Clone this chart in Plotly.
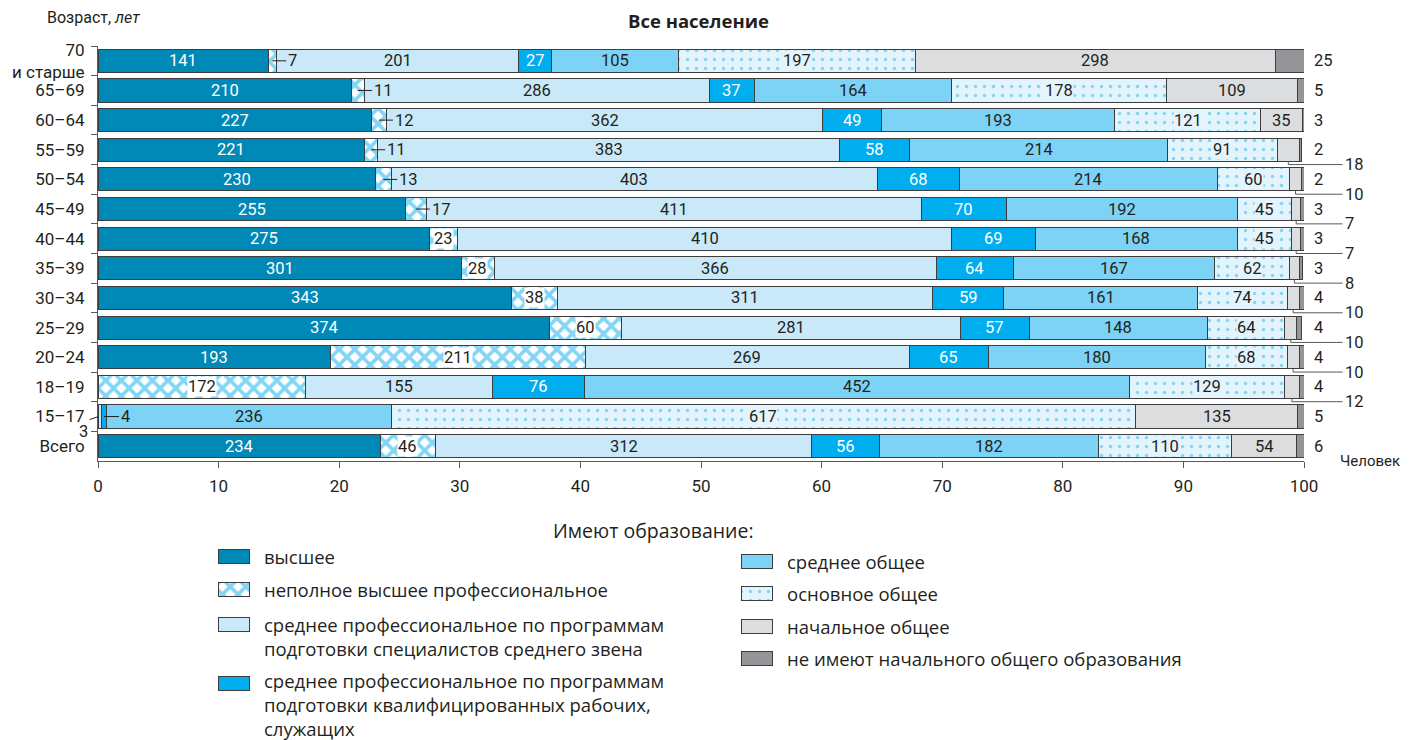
import numpy as np
import plotly.graph_objects as go

# ---------------- data (per 1000 persons) ----------------
ages = ["70<br>и старше", "65–69", "60–64", "55–59", "50–54", "45–49", "40–44",
        "35–39", "30–34", "25–29", "20–24", "18–19", "15–17", "Всего"]

higher            = [141, 210, 227, 221, 230, 255, 275, 301, 343, 374, 193,   0,   0, 234]
incomplete_higher = [  7,  11,  12,  11,  13,  17,  23,  28,  38,  60, 211, 172,   0,  46]
spo_specialists   = [201, 286, 362, 383, 403, 411, 410, 366, 311, 281, 269, 155,   3, 312]
spo_workers       = [ 27,  37,  49,  58,  68,  70,  69,  64,  59,  57,  65,  76,   4,  56]
secondary_general = [105, 164, 193, 214, 214, 192, 168, 167, 161, 148, 180, 452, 236, 182]
basic_general     = [197, 178, 121,  91,  60,  45,  45,  62,  74,  64,  68, 129, 617, 110]
primary_general   = [298, 109,  35,  18,  10,   7,   7,   8,  10,  10,  10,  12, 135,  54]
no_primary        = [ 25,   5,   3,   2,   2,   3,   3,   3,   4,   4,   4,   4,   5,   6]

series_names = [
    "высшее",
    "неполное высшее профессиональное",
    "среднее профессиональное по программам<br>подготовки специалистов среднего звена",
    "среднее профессиональное по программам<br>подготовки квалифицированных рабочих,<br>служащих",
    "среднее общее",
    "основное общее",
    "начальное общее",
    "не имеют начального общего образования",
]
series_values = [higher, incomplete_higher, spo_specialists, spo_workers,
                 secondary_general, basic_general, primary_general, no_primary]

x_ticks = [0, 10, 20, 30, 40, 50, 60, 70, 80, 90, 100]

# ---------------- styles ----------------
colors = ["#0089b6", "#ffffff", "#c9e9f8", "#00aeef", "#7dd3f5", "#e4f4fc", "#dcdddf", "#939598"]
patterns = [None,
            dict(shape="x", fgcolor="#08acee", bgcolor="#ffffff", size=11, solidity=0.55),
            None, None, None,
            dict(shape=".", fgcolor="#2fb3ea", bgcolor="#e4f4fc", size=9, solidity=0.12),
            None, None]
text_colors = ["#ffffff", "#231f20", "#231f20", "#ffffff", "#231f20", "#231f20", "#231f20", "#231f20"]
label_bg = [None, "#ffffff", None, None, None, "#e4f4fc", None, None]
OUTLINE = "#3d3d3f"
DARK = "#231f20"
AXIS = "#58595b"
NUM_FONT = "Roboto, Liberation Sans, sans-serif"
TXT_FONT = "Open Sans, Noto Sans, sans-serif"

# the page body has an 8 px margin: size the figure so it fits the 1410x740 window
OFF = 8
W, H = 1410 - OFF, 740 - OFF
L, T, B = 98 - OFF, 46 - OFF, 0
PW = 1206
R = W - L - PW
PH = H - T - B


def pxx(x):  # page pixel x -> paper x
    return (x - OFF - L) / PW


def pxy(y):  # page pixel y -> paper y
    return (H - B - (y - OFF)) / PH


main_bottom_px = 461
fig = go.Figure()

for k, vals in enumerate(series_values):
    marker = dict(color=colors[k], line=dict(color=OUTLINE, width=1))
    if patterns[k]:
        marker["pattern"] = patterns[k]
    fig.add_trace(go.Bar(
        orientation="h", y=ages,
        x=[v / 10 if v else None for v in vals],
        marker=marker, name=series_names[k], showlegend=False,
        hoverinfo="skip", textposition="none",
    ))

# ---------------- labels ----------------
V = np.array(series_values, dtype=float) / 10.0
ends = np.cumsum(V, axis=0)
starts = ends - V
mids = starts + V / 2

LBL = 16.5
annotations = []
shapes = []
for k, vals in enumerate(series_values):
    for i, v in enumerate(vals):
        if v == 0:
            continue
        txt = str(v)
        m = float(mids[k, i])
        if k == 7:
            annotations.append(dict(x=100, y=i, xref="x", yref="y", text=txt, showarrow=False,
                                    xanchor="left", yanchor="middle", xshift=8,
                                    font=dict(family=NUM_FONT, size=LBL, color=DARK)))
        elif k == 1 and v < 20:
            annotations.append(dict(x=m, y=i, xref="x", yref="y", text=txt, showarrow=True,
                                    arrowhead=0, arrowwidth=1, arrowcolor=DARK, standoff=0,
                                    ax=14, ay=0, xanchor="left", yanchor="middle",
                                    font=dict(family=NUM_FONT, size=LBL, color=DARK)))
        elif k == 6 and v < 20:
            shapes.append(dict(type="line", xref="x", yref="y", x0=m, x1=m, y0=i + 0.39, y1=i + 0.5,
                               line=dict(color=AXIS, width=1)))
            annotations.append(dict(x=m, y=i + 0.5, xref="x", yref="y", text=txt, showarrow=True,
                                    arrowhead=0, arrowwidth=1, arrowcolor=AXIS, standoff=0,
                                    axref="x", ayref="y", ax=103.2, ay=i + 0.5,
                                    xanchor="left", yanchor="middle",
                                    font=dict(family=NUM_FONT, size=LBL, color=DARK)))
        elif k == 2 and v < 5:
            annotations.append(dict(x=float(starts[k, i]) + 0.05, y=i, xref="x", yref="y",
                                    text=txt, showarrow=True, arrowhead=0, arrowwidth=1,
                                    arrowcolor=DARK, standoff=0, ax=-9, ay=3,
                                    xanchor="right", yanchor="top",
                                    font=dict(family=NUM_FONT, size=LBL, color=DARK)))
        elif k == 3 and v < 5:
            annotations.append(dict(x=m, y=i, xref="x", yref="y", text=txt, showarrow=True,
                                    arrowhead=0, arrowwidth=1, arrowcolor=DARK, standoff=0,
                                    ax=15, ay=0, xanchor="left", yanchor="middle",
                                    font=dict(family=NUM_FONT, size=LBL, color=DARK)))
        else:
            a = dict(x=m, y=i, xref="x", yref="y", text=txt, showarrow=False,
                     xanchor="center", yanchor="middle",
                     font=dict(family=NUM_FONT, size=LBL, color=text_colors[k]))
            if label_bg[k]:
                a["bgcolor"] = label_bg[k]
                a["borderpad"] = 0
            annotations.append(a)

# ---------------- titles ----------------
annotations += [
    dict(x=pxx(698), y=pxy(20), xref="paper", yref="paper", text="<b>Все население</b>",
         showarrow=False, xanchor="center", yanchor="middle",
         font=dict(family=TXT_FONT, size=18.5, color=DARK)),
    dict(x=pxx(45), y=pxy(18), xref="paper", yref="paper", text="Возраст, <i>лет</i>",
         showarrow=False, xanchor="left", yanchor="middle",
         font=dict(family=NUM_FONT, size=16, color=DARK)),
    dict(x=pxx(1338), y=pxy(461), xref="paper", yref="paper", text="Человек",
         showarrow=False, xanchor="left", yanchor="middle",
         font=dict(family=NUM_FONT, size=15, color=DARK)),
    dict(x=pxx(653), y=pxy(530), xref="paper", yref="paper", text="Имеют образование:",
         showarrow=False, xanchor="center", yanchor="middle",
         font=dict(family=TXT_FONT, size=19.5, color=DARK)),
]

# ---------------- legend (manual, two columns) ----------------
legend_swatch = [  # swatch left x, swatch centre y (page px)
    (218, 556), (218, 589), (218, 624), (218, 683),
    (741, 561), (741, 593), (741, 626), (741, 658),
]
legend_text_y = [556, 589, 636, 704, 561, 593, 626, 658]
for k, (sx, sy) in enumerate(legend_swatch):
    marker = dict(color=colors[k], line=dict(color=OUTLINE, width=1))
    if patterns[k]:
        marker["pattern"] = patterns[k]
    fig.add_trace(go.Bar(orientation="h", x=[31], base=[sx], y=[sy], width=[14],
                         xaxis="x2", yaxis="y2", marker=marker, showlegend=False,
                         hoverinfo="skip"))
    annotations.append(dict(x=pxx(sx + 44), y=pxy(legend_text_y[k]), xref="paper", yref="paper",
                            text=series_names[k], showarrow=False, xanchor="left",
                            yanchor="middle", align="left",
                            font=dict(family=TXT_FONT, size=18.5, color=DARK)))

fig.update_layout(
    width=W, height=H, margin=dict(l=L, r=R, t=T, b=B, autoexpand=False),
    barmode="stack", bargap=0.22,
    paper_bgcolor="white", plot_bgcolor="white",
    hovermode=False, showlegend=False,
    annotations=annotations, shapes=shapes,
    xaxis=dict(range=[0, 100], tickvals=x_ticks, ticks="outside", ticklen=6, tickcolor=AXIS,
               showline=True, linecolor=AXIS, linewidth=1, showgrid=False, zeroline=False,
               tickfont=dict(family=NUM_FONT, size=17, color=DARK), anchor="y",
               ticklabelstandoff=4, fixedrange=True, automargin=False),
    yaxis=dict(type="category", categoryorder="array", categoryarray=ages,
               range=[len(ages) - 0.5, -0.5], domain=[pxy(main_bottom_px), 1],
               tickson="boundaries", ticks="outside", ticklen=6, tickcolor=AXIS,
               showline=True, linecolor=AXIS, linewidth=1, showgrid=False, zeroline=False,
               tickfont=dict(family=NUM_FONT, size=17, color=DARK), anchor="x",
               ticklabelstandoff=9, fixedrange=True, automargin=False),
    xaxis2=dict(domain=[0, 1], range=[98, 98 + PW], visible=False, anchor="y2", fixedrange=True,
                automargin=False),
    yaxis2=dict(domain=[0, pxy(470)], range=[H + OFF, 470], visible=False, anchor="x2",
                fixedrange=True, automargin=False),
)

fig.write_html("out.html")
